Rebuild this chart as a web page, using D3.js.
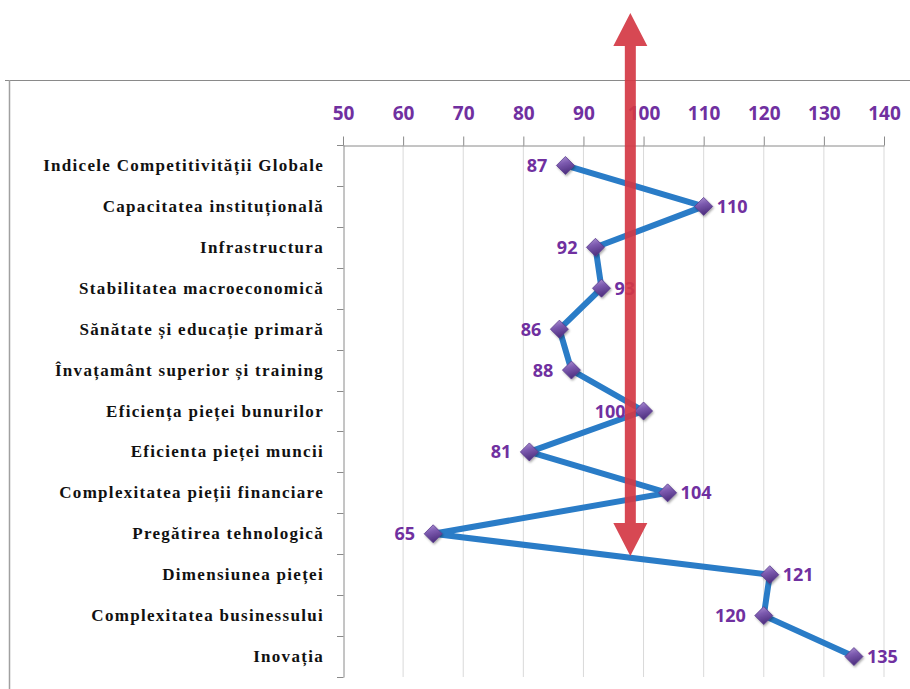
<!DOCTYPE html>
<html><head><meta charset="utf-8">
<script src="https://cdn.jsdelivr.net/npm/d3@7"></script>
<style>
html,body{margin:0;padding:0;background:#fff;}
svg{display:block;}
</style></head>
<body>
<svg id="c" width="910" height="689"></svg>
<script>
const categories = [
  "Indicele Competitivității Globale",
  "Capacitatea instituțională",
  "Infrastructura",
  "Stabilitatea macroeconomică",
  "Sănătate și educație primară",
  "Învațamânt superior și training",
  "Eficiența pieței bunurilor",
  "Eficienta pieței muncii",
  "Complexitatea pieții financiare",
  "Pregătirea tehnologică",
  "Dimensiunea pieței",
  "Complexitatea businessului",
  "Inovația"
];
const values = [87, 110, 92, 93, 86, 88, 100, 81, 104, 65, 121, 120, 135];
const labelSide = ["left","right","left","right","left","left","left","left","right","left","right","left","right"];
const tickValues = [50, 60, 70, 80, 90, 100, 110, 120, 130, 140];
const referenceValue = 97.8;

const svg = d3.select("#c");
const x = d3.scaleLinear().domain([50, 140]).range([343, 884]);
const y = d3.scaleBand().domain(categories).range([145, 677]);
const yc = d => y(d) + y.bandwidth() / 2;

const defs = svg.append("defs");
const g = defs.append("linearGradient").attr("id", "mk").attr("x1", 0).attr("y1", 0).attr("x2", 0.3).attr("y2", 1);
g.append("stop").attr("offset", "0%").attr("stop-color", "#b49ad8");
g.append("stop").attr("offset", "45%").attr("stop-color", "#7d5bb0");
g.append("stop").attr("offset", "100%").attr("stop-color", "#4f3080");
const f = defs.append("filter").attr("id", "sh").attr("x", "-50%").attr("y", "-50%").attr("width", "200%").attr("height", "200%");
f.append("feDropShadow").attr("dx", 1).attr("dy", 1.5).attr("stdDeviation", 1.2).attr("flood-color", "#000").attr("flood-opacity", 0.35);

// frame lines
svg.append("line").attr("x1", 5).attr("x2", 910).attr("y1", 80.5).attr("y2", 80.5).attr("stroke", "#8a8a8a").attr("stroke-width", 1.2);
svg.append("line").attr("x1", 9.5).attr("x2", 9.5).attr("y1", 80).attr("y2", 689).attr("stroke", "#a0a0a0").attr("stroke-width", 1.5);

// gridlines
svg.append("g").selectAll("line").data(tickValues.slice(1)).join("line")
  .attr("x1", d => x(d)).attr("x2", d => x(d)).attr("y1", 145).attr("y2", 677)
  .attr("stroke", "#d9d9d9").attr("stroke-width", 1);

// top axis
const xAxis = d3.axisTop(x).tickValues(tickValues).tickSize(9).tickSizeOuter(0).tickPadding(17).tickFormat(d3.format("d"));
const gx = svg.append("g").attr("transform", "translate(0,145.5)").call(xAxis);
gx.select(".domain").attr("stroke", "#8a8a8a");
gx.selectAll(".tick line").attr("stroke", "#8a8a8a");
gx.selectAll(".tick text").attr("fill", "#7030a0").attr("font-family", "'Open Sans', sans-serif")
  .attr("font-weight", "bold").attr("font-size", "19px");
svg.append("line").attr("x1", 337).attr("x2", 343).attr("y1", 145.5).attr("y2", 145.5).attr("stroke", "#8a8a8a");

// left axis
const yAxis = d3.axisLeft(y).tickSize(0).tickFormat("");
const gy = svg.append("g").attr("transform", "translate(343.5,0)").call(yAxis);
gy.select(".domain").attr("stroke", "#8a8a8a");
const bounds = categories.map(c => y(c)).concat([y.range()[1]]);
svg.append("g").selectAll("line").data(bounds).join("line")
  .attr("x1", 337).attr("x2", 343.5).attr("y1", d => Math.round(d) + 0.5).attr("y2", d => Math.round(d) + 0.5)
  .attr("stroke", "#8a8a8a");

// category labels
svg.append("g").selectAll("text").data(categories).join("text")
  .attr("x", 324).attr("y", d => yc(d) + 5.5)
  .attr("text-anchor", "end")
  .attr("font-family", "'Liberation Serif', 'Times New Roman', serif")
  .attr("font-weight", "bold").attr("font-size", "17px").attr("letter-spacing", "1.3px")
  .attr("fill", "#111")
  .text(d => d);

// line
const line = d3.line().x((d, i) => x(d)).y((d, i) => yc(categories[i]));
svg.append("path").datum(values).attr("d", line)
  .attr("fill", "none").attr("stroke", "#2a7cc7").attr("stroke-width", 6)
  .attr("stroke-linejoin", "round").attr("stroke-linecap", "round");

// markers
const r = 9;
svg.append("g").selectAll("path").data(values).join("path")
  .attr("d", (d, i) => {
    const cx = x(d), cy = yc(categories[i]);
    return `M${cx},${cy - r}L${cx + r},${cy}L${cx},${cy + r}L${cx - r},${cy}Z`;
  })
  .attr("fill", "url(#mk)").attr("stroke", "#5b3b8e").attr("stroke-width", 0.8)
  .attr("filter", "url(#sh)");

// data labels
svg.append("g").selectAll("text").data(values).join("text")
  .attr("x", (d, i) => labelSide[i] === "left" ? x(d) - 18 : x(d) + 13)
  .attr("y", (d, i) => yc(categories[i]) + 6.5)
  .attr("text-anchor", (d, i) => labelSide[i] === "left" ? "end" : "start")
  .attr("font-family", "'Open Sans', sans-serif").attr("font-weight", "bold").attr("font-size", "18px")
  .attr("fill", "#7030a0")
  .text(d => d);

// red double arrow
const ax = x(referenceValue);
const arrTop = 13, arrBot = 556, headH = 33, headW = 17, shaftW = 5.5;
const arrow = [
  [ax, arrTop], [ax + headW, arrTop + headH], [ax + shaftW, arrTop + headH],
  [ax + shaftW, arrBot - headH], [ax + headW, arrBot - headH], [ax, arrBot],
  [ax - headW, arrBot - headH], [ax - shaftW, arrBot - headH], [ax - shaftW, arrTop + headH],
  [ax - headW, arrTop + headH]
];
svg.append("path").attr("d", "M" + arrow.map(p => p.join(",")).join("L") + "Z")
  .attr("fill", "#d43844").attr("fill-opacity", 0.92);
</script>
</body></html>
